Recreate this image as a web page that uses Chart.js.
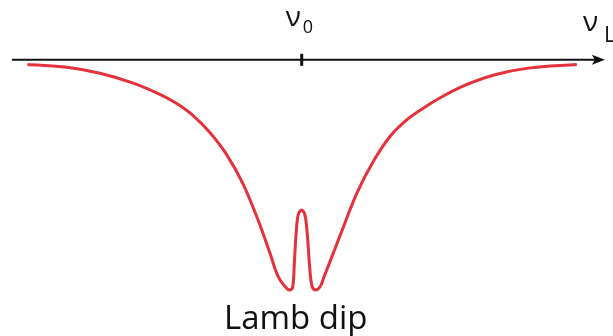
<!DOCTYPE html>
<html>
<head>
<meta charset="utf-8">
<script src="https://cdn.jsdelivr.net/npm/chart.js@4"></script>
<style>
  html, body { margin: 0; padding: 0; background: #fff; }
  #wrap { width: 613px; height: 336px; }
</style>
</head>
<body>
<div id="wrap"><canvas id="lambChart"></canvas></div>
<script>
// laser detuning (arb. units, 0 = line centre) and absorption signal
const detuning = [-10.16, -8.7, -7.47, -6.24, -5.25, -4.63, -4.01, -3.4, -2.78, -2.16,
  -1.57, -1.17, -0.87, -0.56, -0.43, -0.33, -0.27, -0.21, -0.13, 0, 0.12, 0.21, 0.28,
  0.37, 0.49, 0.68, 0.83, 1.17, 1.46, 2.04, 2.65, 3.27, 3.89, 4.5, 5.1, 5.93, 7.16, 8.39, 10.19];
const signal = [-0.02, -0.032, -0.058, -0.101, -0.15, -0.19, -0.243, -0.316, -0.412, -0.542,
  -0.71, -0.842, -0.942, -0.993, -1.0, -0.986, -0.877, -0.761, -0.674, -0.652, -0.674, -0.761, -0.877,
  -0.978, -1.0, -0.986, -0.942, -0.84, -0.752, -0.58, -0.442, -0.333, -0.261, -0.21, -0.167, -0.116,
  -0.065, -0.036, -0.02];

// frequency axis extent and labels
const axisRange = [-10.73, 11.23];
const centreTick = 0;
const centreLabel = "\u03bd";
const centreSub = "0";
const axisLabel = "\u03bd";
const axisSub = "L";
const dipLabel = "Lamb dip";

const curve = detuning.map(function (x, i) {
  return { x: x, y: signal[i] };
});

const frequencyAxis = {
  id: "frequencyAxis",
  beforeDatasetsDraw(chart) {
    const ctx = chart.ctx;
    const xs = chart.scales.x;
    const ys = chart.scales.y;
    const y0 = ys.getPixelForValue(0);
    const x1 = xs.getPixelForValue(axisRange[0]);
    const x2 = xs.getPixelForValue(axisRange[1]);
    const xc = xs.getPixelForValue(centreTick);

    ctx.save();
    ctx.strokeStyle = "#111";
    ctx.fillStyle = "#111";
    ctx.lineWidth = 2;
    ctx.beginPath();
    ctx.moveTo(x1, y0);
    ctx.lineTo(x2 - 6, y0);
    ctx.stroke();

    // arrow head
    ctx.beginPath();
    ctx.moveTo(x2, y0);
    ctx.lineTo(x2 - 13, y0 - 5);
    ctx.lineTo(x2 - 10, y0);
    ctx.lineTo(x2 - 13, y0 + 5);
    ctx.closePath();
    ctx.fill();

    // tick at line centre
    ctx.lineWidth = 3;
    ctx.beginPath();
    ctx.moveTo(xc, y0 - 6);
    ctx.lineTo(xc, y0 + 6);
    ctx.stroke();

    ctx.textBaseline = "alphabetic";
    ctx.textAlign = "left";
    ctx.font = "28px 'Open Sans'";
    ctx.fillText(centreLabel, xc - 16, y0 - 34);
    ctx.font = "18px 'Open Sans'";
    ctx.fillText(centreSub, xc + 1, y0 - 27);

    ctx.font = "28px 'Open Sans'";
    ctx.fillText(axisLabel, x2 - 22, y0 - 29);
    ctx.font = "22px 'Open Sans'";
    ctx.fillText(axisSub, x2 - 1, y0 - 18);

    ctx.textAlign = "center";
    ctx.font = "33px 'Open Sans'";
    ctx.fillText(dipLabel, xc - 6, ys.getPixelForValue(-1.17));
    ctx.restore();
  },
};

new Chart(document.getElementById("lambChart"), {
  type: "scatter",
  data: {
    datasets: [
      {
        data: curve,
        showLine: true,
        borderColor: "#e4313b",
        borderWidth: 3,
        pointRadius: 0,
        tension: 0.35,
      },
    ],
  },
  options: {
    responsive: true,
    maintainAspectRatio: false,
    animation: false,
    layout: { padding: 0 },
    scales: {
      x: { type: "linear", min: -11.174, max: 11.53, display: false },
      y: { type: "linear", min: -1.2, max: 0.26, display: false },
    },
    plugins: {
      legend: { display: false },
      tooltip: { enabled: false },
    },
  },
  plugins: [frequencyAxis],
});
</script>
</body>
</html>
